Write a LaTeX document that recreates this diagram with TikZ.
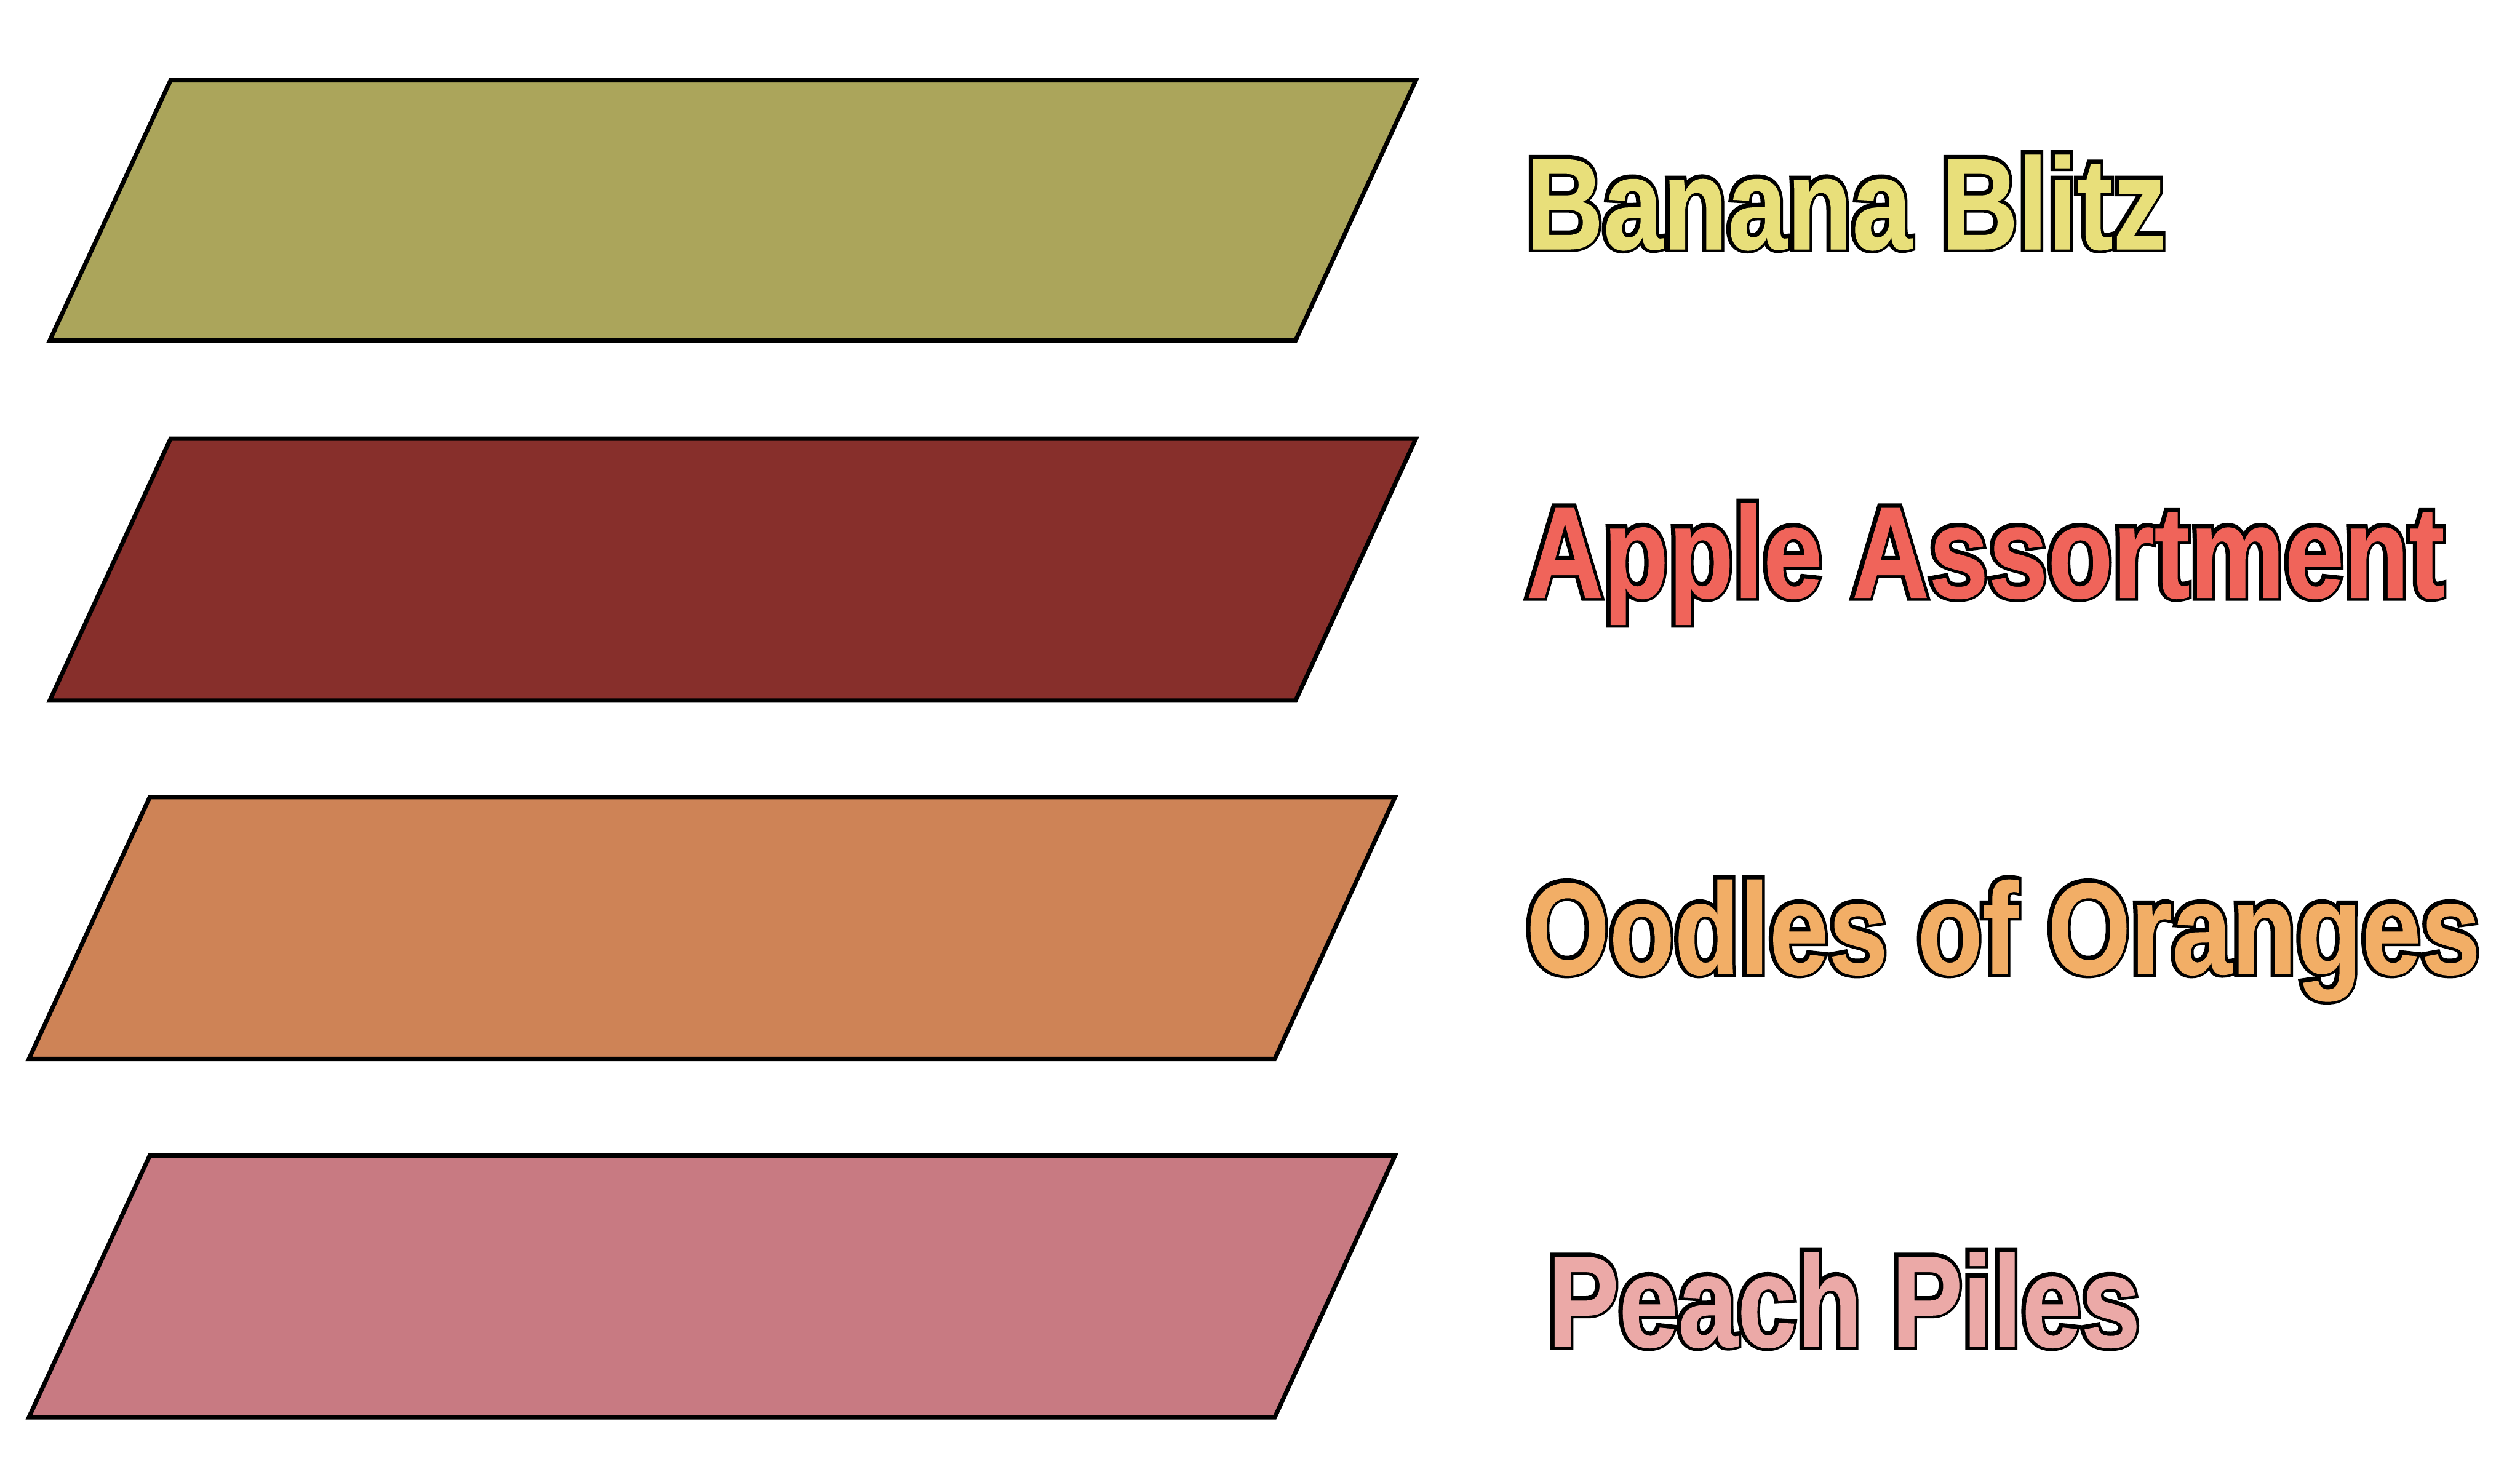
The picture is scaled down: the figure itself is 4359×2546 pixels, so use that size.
\documentclass[tikz,border=0pt]{standalone}
\usepackage{fontspec}
\newfontfamily\labfont[FakeStretch=0.82,FakeBold=0.5]{Liberation Sans}
\newfontfamily\labfontout[FakeStretch=0.82,FakeBold=6]{Liberation Sans}
\definecolor{olivebox}{RGB}{171,165,91}
\definecolor{applebox}{RGB}{135,47,43}
\definecolor{orangebox}{RGB}{206,131,86}
\definecolor{peachbox}{RGB}{200,122,130}
\definecolor{bananatxt}{RGB}{232,223,122}
\definecolor{appletxt}{RGB}{240,100,90}
\definecolor{orangetxt}{RGB}{242,174,102}
\definecolor{peachtxt}{RGB}{235,169,167}
\newcommand\outlinedtext[2]{\makebox[0pt][l]{\kern-0.3mm\raisebox{0.3mm}{\labfontout\bfseries\color{black}#2}}\textcolor{#1}{#2}}
\tikzset{
  para/.style={draw=black, line width=1.5mm, line join=miter},
  lbl/.style={anchor=base west, inner sep=0pt, font=\labfont\bfseries\fontsize{128}{128}\selectfont},
}
\begin{document}
\begin{tikzpicture}[x=0.2mm,y=-0.2mm]
\useasboundingbox[fill=white] (0,0) rectangle (4359,2546);
% parallelograms
\draw[para, fill=olivebox]  (295,139) -- (2449,139) -- (2241,589) -- (86,589) -- cycle;
\draw[para, fill=applebox]  (295,759) -- (2449,759) -- (2241,1212) -- (86,1212) -- cycle;
\draw[para, fill=orangebox] (259,1379) -- (2413,1379) -- (2205,1832) -- (50,1832) -- cycle;
\draw[para, fill=peachbox]  (259,1999) -- (2413,1999) -- (2205,2452) -- (50,2452) -- cycle;
% labels
\node[lbl] (banana) at (2640,431)  {\outlinedtext{bananatxt}{Banana Blitz}};
\node[lbl] (apple)  at (2640,1034) {\outlinedtext{appletxt}{Apple Assortment}};
\node[lbl] (orange) at (2640,1685) {\outlinedtext{orangetxt}{Oodles of Oranges}};
\node[lbl] (peach)  at (2677,2330) {\outlinedtext{peachtxt}{Peach Piles}};
\end{tikzpicture}
\end{document}
